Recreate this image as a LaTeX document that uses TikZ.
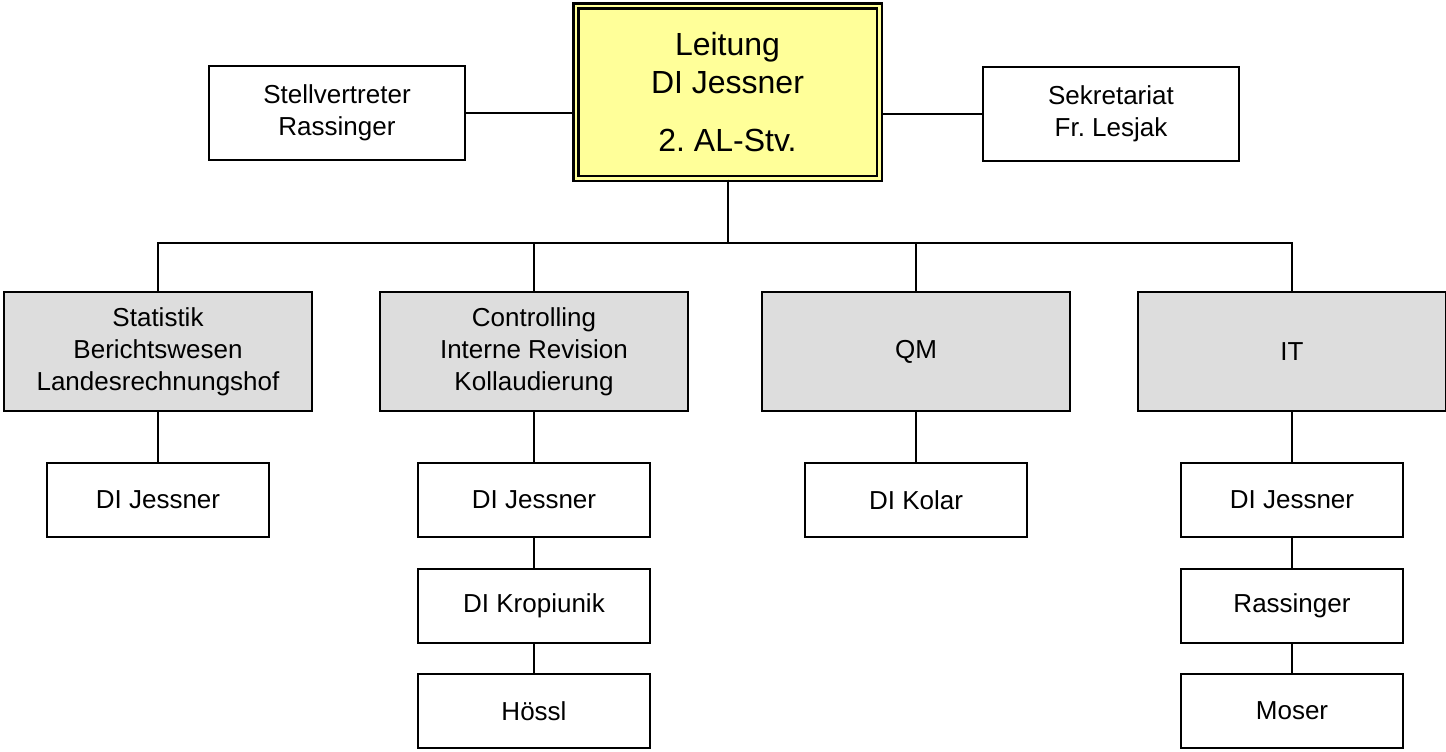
\documentclass[tikz,border=0pt]{standalone}
\usepackage{fontspec}
\setmainfont{Liberation Sans}
\frenchspacing
\definecolor{deptgray}{RGB}{221,221,221}
\definecolor{leadyellow}{RGB}{255,255,153}
\begin{document}
\begin{tikzpicture}[x=0.5pt,y=-0.5pt]
	\tikzstyle{orgbox} = [draw, line width=1.2pt, shape=rectangle, align=center, inner sep=0pt, font=\fontsize{13}{16}\selectfont]
	\tikzstyle{sidebox} = [orgbox, fill=white, minimum width=128pt, minimum height=47pt]
	\tikzstyle{deptbox} = [orgbox, fill=deptgray, minimum width=154pt, minimum height=59.5pt]
	\tikzstyle{staffbox} = [orgbox, fill=white, minimum width=111pt, minimum height=37pt]
	\tikzstyle{orgedge} = [line width=1pt]

	\useasboundingbox (0,0) rectangle (1446,751);

	% NODES %
	\node[orgbox, line width=1.25pt, fill=leadyellow, double=leadyellow, double distance=1.25pt, minimum width=151.75pt, minimum height=86.25pt, font=\fontsize{16}{19}\selectfont] (lead) at (727.5,92) {Leitung\\DI Jessner\\[10pt]2. AL-Stv.};
	\node[sidebox] (stv) at (337,113) {Stellvertreter\\Rassinger};
	\node[sidebox] (sek) at (1111,114) {Sekretariat\\Fr. Lesjak};

	\node[deptbox] (stat) at (158,351.5) {Statistik\\Berichtswesen\\Landesrechnungshof};
	\node[deptbox] (contr) at (534,351.5) {Controlling\\Interne Revision\\Kollaudierung};
	\node[deptbox] (qm) at (916,351.5) {QM};
	\node[deptbox] (it) at (1292,351.5) {IT};

	\node[staffbox] (stat1) at (158,500) {DI Jessner};

	\node[staffbox, minimum width=116pt] (contr1) at (534,500) {DI Jessner};
	\node[staffbox, minimum width=116pt] (contr2) at (534,606) {DI Kropiunik};
	\node[staffbox, minimum width=116pt] (contr3) at (534,711) {Hössl};

	\node[staffbox] (qm1) at (916,500) {DI Kolar};

	\node[staffbox] (it1) at (1292,500) {DI Jessner};
	\node[staffbox] (it2) at (1292,606) {Rassinger};
	\node[staffbox] (it3) at (1292,711) {Moser};

	\coordinate (bus) at (728,243);

	% EDGES %
	\draw[orgedge] (stv.east) -- (stv.east -| lead.west);
	\draw[orgedge] (sek.west) -- (sek.west -| lead.east);
	\draw[orgedge] (lead.south) -- (lead.south |- bus);
	\draw[orgedge] (stat.north) |- (bus) -| (it.north);
	\draw[orgedge] (contr.north) -- (contr.north |- bus);
	\draw[orgedge] (qm.north) -- (qm.north |- bus);

	\draw[orgedge] (stat) -- (stat1);
	\draw[orgedge] (contr) -- (contr1);
	\draw[orgedge] (contr1) -- (contr2);
	\draw[orgedge] (contr2) -- (contr3);
	\draw[orgedge] (qm) -- (qm1);
	\draw[orgedge] (it) -- (it1);
	\draw[orgedge] (it1) -- (it2);
	\draw[orgedge] (it2) -- (it3);
\end{tikzpicture}
\end{document}
